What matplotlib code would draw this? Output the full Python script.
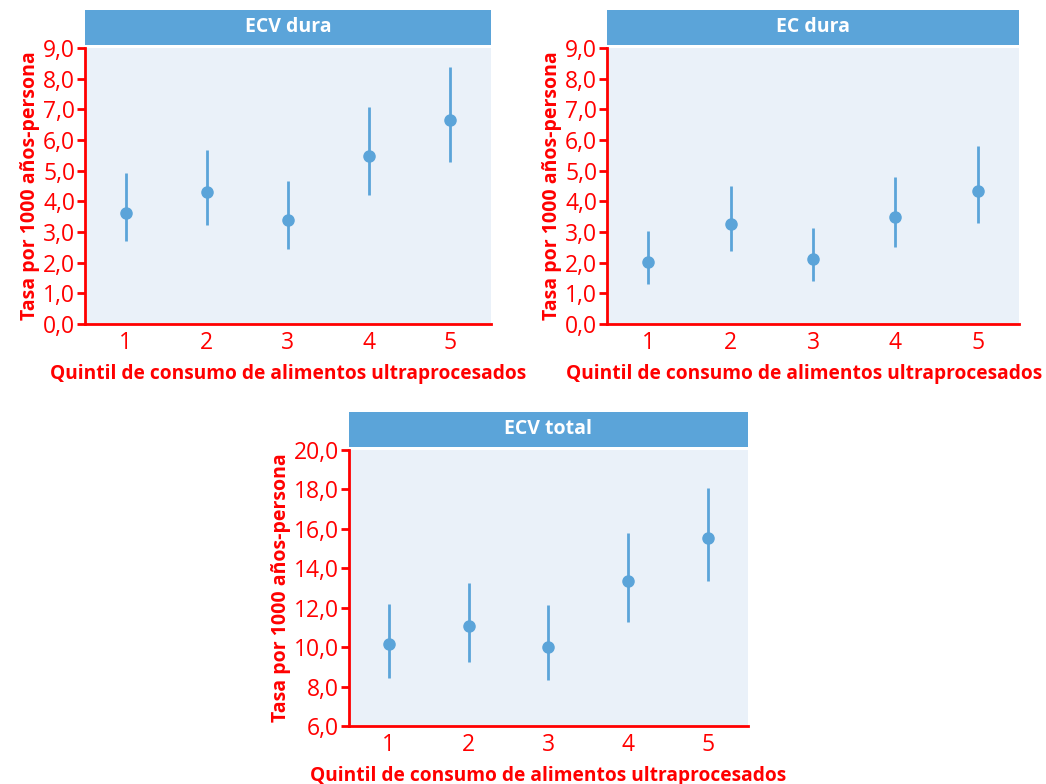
import matplotlib
matplotlib.use('Agg')
import matplotlib.pyplot as plt
from matplotlib.ticker import FuncFormatter

plt.rcParams['font.family'] = ['Open Sans', 'DejaVu Sans']

RED = '#ff0000'
BLUE = '#5ba4d9'
BG = '#eaf1f9'

quintiles = [1, 2, 3, 4, 5]

# ECV dura
ecv_dura = [3.63, 4.30, 3.39, 5.48, 6.64]
ecv_dura_lo = [2.70, 3.23, 2.46, 4.22, 5.27]
ecv_dura_hi = [4.94, 5.68, 4.65, 7.07, 8.37]

# EC dura
ec_dura = [2.02, 3.26, 2.12, 3.50, 4.35]
ec_dura_lo = [1.31, 2.37, 1.40, 2.51, 3.29]
ec_dura_hi = [3.05, 4.50, 3.13, 4.80, 5.81]

# ECV total
ecv_total = [10.18, 11.06, 10.03, 13.36, 15.53]
ecv_total_lo = [8.44, 9.23, 8.34, 11.30, 13.33]
ecv_total_hi = [12.19, 13.24, 12.13, 15.80, 18.05]

xlabel = 'Quintil de consumo de alimentos ultraprocesados'
ylabel = 'Tasa por 1000 años-persona'

# title, values, low, high, ylim, yticks, axes rect, xlabel centre (axes fraction)
panels = [
    ('ECV dura', ecv_dura, ecv_dura_lo, ecv_dura_hi, (0, 9), [0, 1, 2, 3, 4, 5, 6, 7, 8, 9],
     [0.0813, 0.5867, 0.388, 0.352], 0.5),
    ('EC dura', ec_dura, ec_dura_lo, ec_dura_hi, (0, 9), [0, 1, 2, 3, 4, 5, 6, 7, 8, 9],
     [0.5803, 0.5867, 0.394, 0.352], 0.478),
    ('ECV total', ecv_total, ecv_total_lo, ecv_total_hi, (6, 20), [6, 8, 10, 12, 14, 16, 18, 20],
     [0.3337, 0.074, 0.381, 0.352], 0.5),
]

fig = plt.figure(figsize=(10.46, 7.84), dpi=100)

fmt = FuncFormatter(lambda v, p: f'{v:.1f}'.replace('.', ','))

for title, vals, lo, hi, ylim, yticks, rect, xlab_x in panels:
    ax = fig.add_axes(rect)
    ax.set_facecolor(BG)
    ax.vlines(quintiles, lo, hi, color=BLUE, linewidth=2)
    ax.plot(quintiles, vals, 'o', color=BLUE, markersize=8)
    ax.set_xlim(0.5, 5.5)
    ax.set_ylim(*ylim)
    ax.set_yticks(yticks)
    ax.yaxis.set_major_formatter(fmt)
    ax.set_xticks(quintiles)
    for s in ['top', 'right']:
        ax.spines[s].set_visible(False)
    for s in ['left', 'bottom']:
        ax.spines[s].set_color(RED)
        ax.spines[s].set_linewidth(2)
    ax.tick_params(axis='y', colors=RED, labelsize=16.5, length=6, width=2, pad=1)
    ax.tick_params(axis='x', colors=RED, labelsize=16.5, length=0, pad=5)
    ax.set_xlabel(xlabel, color=RED, fontsize=13.8, fontweight='bold')
    ax.xaxis.set_label_coords(xlab_x, -0.145)
    ax.set_ylabel(ylabel, color=RED, fontsize=14, fontweight='bold', labelpad=2)

    # header bar above the plot area
    hx, hy = rect[0], rect[1] + rect[3] + 0.004
    bar = fig.add_axes([hx, hy, rect[2], 0.0446])
    bar.set_facecolor(BLUE)
    bar.set_xticks([])
    bar.set_yticks([])
    for s in bar.spines.values():
        s.set_visible(False)
    bar.text(0.5, 0.5, title, color='white', fontsize=14, fontweight='bold',
             ha='center', va='center', transform=bar.transAxes)

plt.savefig('out.png', dpi=100)
